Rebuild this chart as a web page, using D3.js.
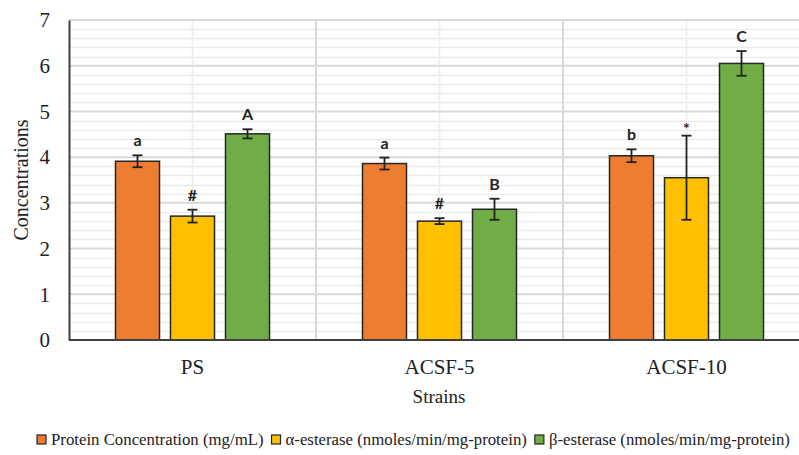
<!DOCTYPE html>
<html>
<head>
<meta charset="utf-8">
<script src="https://cdn.jsdelivr.net/npm/d3@7"></script>
<style>
  body { margin: 0; background: #fff; }
</style>
</head>
<body>
<div id="chart-area"></div>
<script>
// data
const strains = ["PS", "ACSF-5", "ACSF-10"]
const seriesNames = [
  "Protein Concentration (mg/mL)",
  "α-esterase (nmoles/min/mg-protein)",
  "β-esterase (nmoles/min/mg-protein)"
]
const protein = [3.91, 3.86, 4.03]
const proteinErr = [0.13, 0.13, 0.14]
const alpha = [2.71, 2.60, 3.55]
const alphaErr = [0.14, 0.065, 0.92]
const beta = [4.51, 2.86, 6.05]
const betaErr = [0.10, 0.23, 0.27]
const proteinSig = ["a", "a", "b"]
const alphaSig = ["#", "#", "*"]
const betaSig = ["A", "B", "C"]
const yTicks = [0, 1, 2, 3, 4, 5, 6, 7]
const colors = ["#ED7D31", "#FFC000", "#70AD47"]

const WIDTH = 799
const HEIGHT = 455
const LEFT = 69, TOP = 20, BOTTOM = 340
const STEP = 247
const SERIF = '"Liberation Serif", "Times New Roman", serif'

const values = [protein, alpha, beta]
const errors = [proteinErr, alphaErr, betaErr]
const sigs = [proteinSig, alphaSig, betaSig]

const svg = d3.select("#chart-area").append("svg")
  .attr("width", WIDTH)
  .attr("height", HEIGHT)

const x = d3.scaleBand()
  .domain(strains)
  .range([LEFT, LEFT + STEP * strains.length])
  .padding(0)

const xs = d3.scaleBand()
  .domain(d3.range(seriesNames.length))
  .range([-77, 77])
  .paddingInner(0.2)
  .paddingOuter(0)

const y = d3.scaleLinear()
  .domain([0, 7])
  .range([BOTTOM, TOP])

// minor horizontal grid
const minor = d3.range(0, 7.001, 0.2).filter(v => Math.abs(v - Math.round(v)) > 1e-6)
svg.append("g").selectAll("line").data(minor).enter().append("line")
  .attr("x1", LEFT).attr("x2", WIDTH)
  .attr("y1", d => Math.round(y(d)) + 0.5).attr("y2", d => Math.round(y(d)) + 0.5)
  .attr("stroke", "#ebebeb").attr("stroke-width", 1.5)

// vertical grid: centres (light) and boundaries
svg.append("g").selectAll("line").data(strains).enter().append("line")
  .attr("x1", d => x(d) + x.bandwidth() / 2).attr("x2", d => x(d) + x.bandwidth() / 2)
  .attr("y1", TOP).attr("y2", BOTTOM)
  .attr("stroke", "#ececec").attr("stroke-width", 1.5)
svg.append("g").selectAll("line").data(strains.slice(1)).enter().append("line")
  .attr("x1", d => x(d)).attr("x2", d => x(d))
  .attr("y1", TOP).attr("y2", BOTTOM)
  .attr("stroke", "#d9d9d9").attr("stroke-width", 2)

// major horizontal grid
svg.append("g").selectAll("line").data(yTicks.slice(1)).enter().append("line")
  .attr("x1", LEFT).attr("x2", WIDTH)
  .attr("y1", d => y(d)).attr("y2", d => y(d))
  .attr("stroke", "#d9d9d9").attr("stroke-width", 2)

// Y axis
const yAxisGroup = svg.append("g")
  .attr("transform", `translate(${LEFT},0)`)
  .call(d3.axisLeft(y).tickValues(yTicks).tickFormat(d3.format("d")).tickSize(0).tickPadding(19))
yAxisGroup.attr("font-family", null).attr("font-size", null)
yAxisGroup.select(".domain").attr("stroke", "#404040").attr("stroke-width", 2)
yAxisGroup.selectAll("text")
  .style("font-family", SERIF)
  .style("font-size", "21px")
  .attr("fill", "#222")

// bars
strains.forEach((s, i) => {
  const grp = svg.append("g").attr("transform", `translate(${x(s) + x.bandwidth() / 2},0)`)
  values.forEach((vals, k) => {
    const v = vals[i], e = errors[k][i]
    const cx = xs(k) + xs.bandwidth() / 2
    grp.append("rect")
      .attr("x", xs(k))
      .attr("y", y(v))
      .attr("width", xs.bandwidth())
      .attr("height", BOTTOM - y(v))
      .attr("fill", colors[k])
      .attr("stroke", "#262626")
      .attr("stroke-width", 1.5)
    // error bar
    grp.append("line")
      .attr("x1", cx).attr("x2", cx)
      .attr("y1", y(v + e)).attr("y2", y(v - e))
      .attr("stroke", "#222").attr("stroke-width", 1.8)
    ;[v + e, v - e].forEach(t => {
      grp.append("line")
        .attr("x1", cx - 5).attr("x2", cx + 5)
        .attr("y1", y(t)).attr("y2", y(t))
        .attr("stroke", "#222").attr("stroke-width", 1.8)
    })
    const mark = sigs[k][i]
    grp.append("text")
      .attr("x", cx)
      .attr("y", y(v + e) - (mark === "*" ? 2 : 9))
      .attr("text-anchor", "middle")
      .style("font-family", "Lato, 'Open Sans', sans-serif")
      .style("font-weight", "bold")
      .style("font-size", "16px")
      .attr("fill", "#222")
      .text(mark)
  })
})

// X axis line
svg.append("line")
  .attr("x1", LEFT).attr("x2", WIDTH)
  .attr("y1", BOTTOM).attr("y2", BOTTOM)
  .attr("stroke", "#404040").attr("stroke-width", 2)

// X tick labels
svg.append("g").selectAll("text").data(strains).enter().append("text")
  .attr("x", d => x(d) + x.bandwidth() / 2)
  .attr("y", 374)
  .attr("text-anchor", "middle")
  .style("font-family", SERIF)
  .style("font-size", "21px")
  .attr("fill", "#222")
  .text(d => d)

// axis titles
svg.append("text")
  .attr("x", 439).attr("y", 403)
  .attr("text-anchor", "middle")
  .style("font-family", SERIF)
  .style("font-size", "19px")
  .attr("fill", "#222")
  .text("Strains")

svg.append("text")
  .attr("transform", "translate(28,180) rotate(-90)")
  .attr("text-anchor", "middle")
  .style("font-family", SERIF)
  .style("font-size", "20px")
  .attr("fill", "#222")
  .text("Concentrations")

// legend
const legend = svg.append("g")
let lx = 37
seriesNames.forEach((name, k) => {
  legend.append("rect")
    .attr("x", lx).attr("y", 435)
    .attr("width", 9).attr("height", 9)
    .attr("fill", colors[k])
    .attr("stroke", "#262626").attr("stroke-width", 1.2)
  const t = legend.append("text")
    .attr("x", lx + 14).attr("y", 445)
    .style("font-family", SERIF)
    .style("font-size", "16.8px")
    .attr("fill", "#222")
    .text(name)
  lx += 14 + t.node().getComputedTextLength() + 8
})
</script>
</body>
</html>
